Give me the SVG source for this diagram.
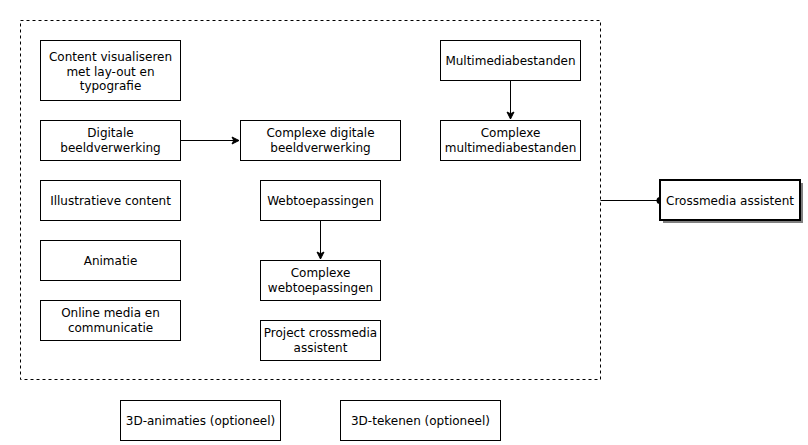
<svg xmlns="http://www.w3.org/2000/svg" width="808" height="445" viewBox="0 0 808 445">
<style>
.b{fill:#fff;stroke:#000;stroke-width:1}
.t{font-family:"DejaVu Sans",Verdana,sans-serif;font-size:12px;fill:#000;text-anchor:middle}
.c{stroke:#000;stroke-width:1;fill:none}
</style>
<defs>
<marker id="ar" markerUnits="userSpaceOnUse" markerWidth="10" markerHeight="10" viewBox="0 0 10 10" refX="8" refY="5" orient="auto">
<path d="M1,1.5 L8,5 L1,8.5 L2.75,5 Z" fill="#000" stroke="#000" stroke-width="1"/>
</marker>
<marker id="dot" markerUnits="userSpaceOnUse" markerWidth="10" markerHeight="10" viewBox="0 0 10 10" refX="5" refY="5" orient="auto">
<circle cx="5" cy="5" r="3.5" fill="#000"/>
</marker>
</defs>
<rect width="808" height="445" fill="#fff"/>
<g id="container">
<rect x="20.5" y="20.5" width="580" height="359" fill="none" stroke="#000" stroke-dasharray="3 3"/>
</g>
<g id="connectors">
<path class="c" d="M180.5,140.5 L239,140.5" marker-end="url(#ar)"/>
<path class="c" d="M320.5,220.5 L320.5,259" marker-end="url(#ar)"/>
<path class="c" d="M510.5,80.5 L510.5,119" marker-end="url(#ar)"/>
<path class="c" d="M600.5,200.5 L660,200.5" marker-end="url(#dot)"/>
</g>
<g id="n1"><rect class="b" x="40.5" y="40.5" width="140" height="60"/>
<text class="t" x="110.5" y="61">Content visualiseren</text>
<text class="t" x="110.5" y="75.5">met lay-out en</text>
<text class="t" x="110.5" y="90">typografie</text></g>
<g id="n2"><rect class="b" x="40.5" y="120.5" width="140" height="40"/>
<text class="t" x="110.5" y="137">Digitale</text>
<text class="t" x="110.5" y="151.5">beeldverwerking</text></g>
<g id="n3"><rect class="b" x="40.5" y="180.5" width="140" height="40"/>
<text class="t" x="110.5" y="204.5">Illustratieve content</text></g>
<g id="n4"><rect class="b" x="40.5" y="240.5" width="140" height="40"/>
<text class="t" x="110.5" y="264.5">Animatie</text></g>
<g id="n5"><rect class="b" x="40.5" y="300.5" width="140" height="40"/>
<text class="t" x="110.5" y="317">Online media en</text>
<text class="t" x="110.5" y="331.5">communicatie</text></g>
<g id="n6"><rect class="b" x="240.5" y="120.5" width="160" height="40"/>
<text class="t" x="320.5" y="137">Complexe digitale</text>
<text class="t" x="320.5" y="151.5">beeldverwerking</text></g>
<g id="n7"><rect class="b" x="260.5" y="180.5" width="120" height="40"/>
<text class="t" x="320.5" y="204.5">Webtoepassingen</text></g>
<g id="n8"><rect class="b" x="260.5" y="260.5" width="120" height="40"/>
<text class="t" x="320.5" y="277">Complexe</text>
<text class="t" x="320.5" y="291.5">webtoepassingen</text></g>
<g id="n9"><rect class="b" x="260.5" y="320.5" width="120" height="40"/>
<text class="t" x="320.5" y="337">Project crossmedia</text>
<text class="t" x="320.5" y="351.5">assistent</text></g>
<g id="n10"><rect class="b" x="440.5" y="40.5" width="140" height="40"/>
<text class="t" x="510.5" y="64.5">Multimediabestanden</text></g>
<g id="n11"><rect class="b" x="440.5" y="120.5" width="140" height="40"/>
<text class="t" x="510.5" y="137">Complexe</text>
<text class="t" x="510.5" y="151.5">multimediabestanden</text></g>
<g id="n12"><rect x="663" y="183" width="140" height="40" fill="#808080"/>
<rect x="660" y="180" width="140" height="40" fill="#fff" stroke="#000" stroke-width="2"/>
<text class="t" x="730" y="204.5">Crossmedia assistent</text></g>
<g id="n13"><rect class="b" x="120.5" y="400.5" width="160" height="40"/>
<text class="t" x="200.5" y="424.5">3D-animaties (optioneel)</text></g>
<g id="n14"><rect class="b" x="340.5" y="400.5" width="160" height="40"/>
<text class="t" x="420.5" y="424.5">3D-tekenen (optioneel)</text></g>
</svg>
